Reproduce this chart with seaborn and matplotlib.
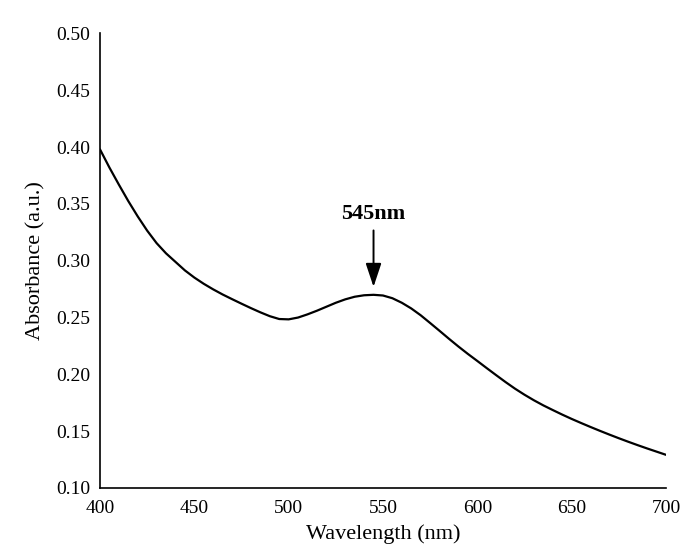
import matplotlib
matplotlib.use("Agg")
import matplotlib.pyplot as plt
import seaborn as sns
import pandas as pd

# UV-Vis absorbance spectrum, sampled every 5 nm
wavelength = [400, 405, 410, 415, 420, 425, 430, 435, 440, 445, 450, 455, 460, 465,
              470, 475, 480, 485, 490, 495, 500, 505, 510, 515, 520, 525, 530, 535,
              540, 545, 550, 555, 560, 565, 570, 575, 580, 585, 590, 595, 600, 605,
              610, 615, 620, 625, 630, 635, 640, 645, 650, 655, 660, 665, 670, 675,
              680, 685, 690, 695, 700]
absorbance = [0.398, 0.382, 0.367, 0.3525, 0.3390, 0.3265, 0.3155, 0.3065, 0.2990,
              0.2915, 0.2852, 0.2797, 0.2748, 0.2703, 0.2662, 0.2622, 0.2583, 0.2546,
              0.2512, 0.2487, 0.2484, 0.2500, 0.2528, 0.2560, 0.2595, 0.2630, 0.2660,
              0.2683, 0.2696, 0.2700, 0.2694, 0.2670, 0.2630, 0.2580, 0.2520, 0.2452,
              0.2383, 0.2313, 0.2245, 0.2180, 0.2118, 0.2055, 0.1993, 0.1932, 0.1874,
              0.1821, 0.1772, 0.1727, 0.1686, 0.1646, 0.1608, 0.1572, 0.1537, 0.1503,
              0.1470, 0.1438, 0.1407, 0.1377, 0.1348, 0.1320, 0.1292]

x_ticks = [400, 450, 500, 550, 600, 650, 700]
y_ticks = [0.10, 0.15, 0.20, 0.25, 0.30, 0.35, 0.40, 0.45, 0.50]
peak_wavelength = 545
peak_label = "545nm"

df = pd.DataFrame({"Wavelength (nm)": wavelength, "Absorbance (a.u.)": absorbance})

sns.set_theme(style="white")
plt.rcParams["font.family"] = ["Liberation Serif", "DejaVu Serif"]

fig = plt.figure(figsize=(6.83, 5.47), dpi=100)
ax = fig.add_axes([0.1464, 0.1079, 0.8286, 0.8309])

sns.lineplot(data=df, x="Wavelength (nm)", y="Absorbance (a.u.)", ax=ax,
             color="black", linewidth=1.6, solid_joinstyle="round")

ax.set_xlim(400, 700)
ax.set_ylim(0.10, 0.50)
ax.set_xticks(x_ticks)
ax.set_xticklabels([str(v) for v in x_ticks])
ax.set_yticks(y_ticks)
ax.set_yticklabels([f"{v:.2f}" for v in y_ticks])
ax.tick_params(axis="y", length=0, labelsize=14, colors="black", pad=7)
ax.tick_params(axis="x", length=0, labelsize=14, colors="black", pad=9)

ax.set_xlabel("Wavelength (nm)", fontsize=16, color="black", labelpad=5)
ax.set_ylabel("Absorbance (a.u.)", fontsize=16, color="black", labelpad=8)

for side in ("top", "right"):
    ax.spines[side].set_visible(False)
for side in ("left", "bottom"):
    ax.spines[side].set_color("black")
    ax.spines[side].set_linewidth(1.2)

peak_value = absorbance[wavelength.index(peak_wavelength)]
ax.annotate(peak_label, xy=(peak_wavelength, peak_value + 0.007),
            xytext=(peak_wavelength, 0.332),
            ha="center", va="bottom", fontsize=16, fontweight="bold", color="black",
            arrowprops=dict(arrowstyle="-|>,head_length=0.9,head_width=0.3",
                            color="black", linewidth=1.4, shrinkA=2, shrinkB=0))

fig.savefig("out.png", dpi=100, facecolor="white")
